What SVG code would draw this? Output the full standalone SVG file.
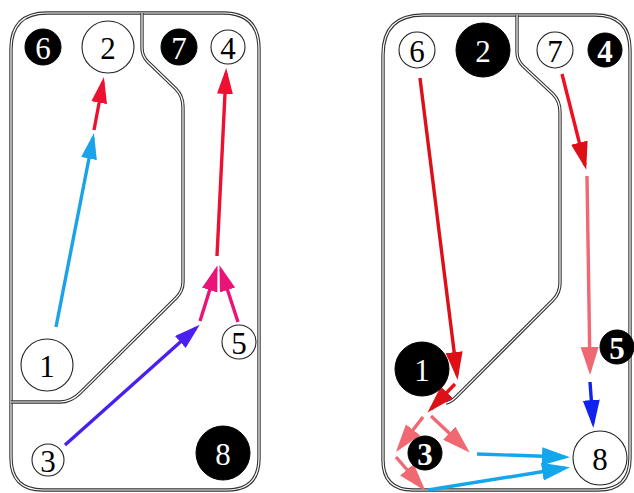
<svg xmlns="http://www.w3.org/2000/svg" width="634" height="493" viewBox="0 0 634 493">
<style>
.wo{fill:none;stroke:#333;stroke-width:3.4;stroke-linejoin:round}
.wi{fill:none;stroke:#fff;stroke-width:1.2;stroke-linejoin:round}
.nw circle{fill:#fff;stroke:#222;stroke-width:1.1}
.nb circle{fill:#000;stroke:#000}
text{font-family:"Liberation Serif","Times New Roman",serif;font-size:31px;text-anchor:middle;dominant-baseline:central}
.nw text{fill:#000}
.nb text{fill:#fff}
.c line{stroke-width:3.4;fill:none}
</style>
<defs>
<marker id="hBlue" markerUnits="userSpaceOnUse" markerWidth="30" markerHeight="18" refX="21" refY="8" orient="auto"><path d="M0,0 L26,8 L0,16 z" fill="#1aa3ea"/></marker>
<marker id="hRed" markerUnits="userSpaceOnUse" markerWidth="30" markerHeight="18" refX="21" refY="8" orient="auto"><path d="M0,0 L26,8 L0,16 z" fill="#ee1030"/></marker>
<marker id="hRed2" markerUnits="userSpaceOnUse" markerWidth="32" markerHeight="18" refX="23" refY="8.5" orient="auto"><path d="M0,0 L28,8.5 L0,17 z" fill="#dd1018"/></marker>
<marker id="hMag" markerUnits="userSpaceOnUse" markerWidth="30" markerHeight="18" refX="21" refY="8" orient="auto"><path d="M0,0 L26,8 L0,16 z" fill="#ea1478"/></marker>
<marker id="hVio" markerUnits="userSpaceOnUse" markerWidth="30" markerHeight="18" refX="21" refY="8" orient="auto"><path d="M0,0 L26,8 L0,16 z" fill="#4a20f0"/></marker>
<marker id="hSal" markerUnits="userSpaceOnUse" markerWidth="32" markerHeight="20" refX="23" refY="9" orient="auto"><path d="M0,0 L28,9 L0,18 z" fill="#f06872"/></marker>
<marker id="hDB" markerUnits="userSpaceOnUse" markerWidth="32" markerHeight="18" refX="23" refY="8.5" orient="auto"><path d="M0,0 L28,8.5 L0,17 z" fill="#1222ee"/></marker>
<marker id="hLB" markerUnits="userSpaceOnUse" markerWidth="32" markerHeight="20" refX="23" refY="9" orient="auto"><path d="M0,0 L28,9 L0,18 z" fill="#14a6ec"/></marker>
</defs>
<rect width="634" height="493" fill="#fff"/>
<g id="frames">
<path class="wo" d="M11,49 Q11,13 47,13 H223 Q259,13 259,49 V458 Q259,490 227,490 H43 Q11,490 11,458 Z"/>
<path class="wi" d="M11,49 Q11,13 47,13 H223 Q259,13 259,49 V458 Q259,490 227,490 H43 Q11,490 11,458 Z"/>
<path class="wo" d="M142,13 V48 Q142,56 148,62 L176,89 Q183,96 183,107 V282 Q183,291 176,298 L80,393 Q71,402 60,402 H11"/>
<path class="wi" d="M142,13 V48 Q142,56 148,62 L176,89 Q183,96 183,107 V282 Q183,291 176,298 L80,393 Q71,402 60,402 H11"/>
<path class="wo" d="M383,55 Q383,15 423,15 H595 Q630,15 630,50 V458 Q630,490 598,490 H413 Q383,490 383,460 Z"/>
<path class="wi" d="M383,55 Q383,15 423,15 H595 Q630,15 630,50 V458 Q630,490 598,490 H413 Q383,490 383,460 Z"/>
<path class="wo" d="M517,15 V52 Q517,60 523,66 L553,94 Q560,101 560,112 V283 Q560,293 553,300 L456,397 Q451,402 446,403"/>
<path class="wi" d="M517,15 V52 Q517,60 523,66 L553,94 Q560,101 560,112 V283 Q560,293 553,300 L456,397 Q451,402 446,403"/>
</g>
<g id="connectors" class="c">
<line x1="56" y1="327" x2="93" y2="138" stroke="#1aa3ea" marker-end="url(#hBlue)"/>
<line x1="94" y1="130" x2="103" y2="82" stroke="#ee1030" marker-end="url(#hRed)"/>
<line x1="217" y1="256" x2="226" y2="73" stroke="#ee1030" marker-end="url(#hRed)"/>
<line x1="200" y1="321" x2="216" y2="270" stroke="#ea1478" marker-end="url(#hMag)"/>
<line x1="238" y1="322" x2="221" y2="270" stroke="#ea1478" marker-end="url(#hMag)"/>
<line x1="65" y1="445" x2="196" y2="328" stroke="#4a20f0" marker-end="url(#hVio)"/>
<line x1="420" y1="78" x2="457" y2="375" stroke="#dd1018" marker-end="url(#hRed2)"/>
<line x1="562" y1="74" x2="585" y2="165" stroke="#ee1022" marker-end="url(#hRed2)"/>
<line x1="587" y1="176" x2="590" y2="370" stroke="#f06872" marker-end="url(#hSal)"/>
<line x1="590" y1="382" x2="593" y2="423" stroke="#1222ee" marker-end="url(#hDB)"/>
<line x1="455" y1="384" x2="431" y2="409" stroke="#ee1010" marker-end="url(#hRed2)"/>
<line x1="423" y1="417" x2="399" y2="448" stroke="#f06872" marker-end="url(#hSal)"/>
<line x1="431" y1="416" x2="466" y2="449" stroke="#f06872" marker-end="url(#hSal)"/>
<line x1="396" y1="457" x2="422" y2="487" stroke="#f06872" marker-end="url(#hSal)"/>
<line x1="477" y1="454" x2="565" y2="457" stroke="#14a6ec" marker-end="url(#hLB)"/>
<line x1="428" y1="490" x2="565" y2="468" stroke="#14a6ec" marker-end="url(#hLB)"/>
</g>
<g id="L6" class="nb"><circle cx="43" cy="47" r="18"/><text x="43" y="48">6</text></g>
<g id="L2" class="nw"><circle cx="108" cy="47" r="26"/><text x="108" y="48">2</text></g>
<g id="L7" class="nb"><circle cx="179" cy="47" r="18"/><text x="179" y="48">7</text></g>
<g id="L4" class="nw"><circle cx="228" cy="47" r="17"/><text x="228" y="48">4</text></g>
<g id="L1" class="nw"><circle cx="47" cy="365" r="26"/><text x="47" y="366">1</text></g>
<g id="L5" class="nw"><circle cx="239" cy="342" r="17"/><text x="239" y="343">5</text></g>
<g id="L3" class="nw"><circle cx="48" cy="460" r="16"/><text x="48" y="461">3</text></g>
<g id="L8" class="nb"><circle cx="223" cy="453" r="27"/><text x="223" y="454">8</text></g>
<g id="R6" class="nw"><circle cx="417" cy="50" r="18"/><text x="417" y="51">6</text></g>
<g id="R2" class="nb"><circle cx="483" cy="50" r="27"/><text x="483" y="51">2</text></g>
<g id="R7" class="nw"><circle cx="555" cy="50" r="18"/><text x="555" y="51">7</text></g>
<g id="R4" class="nb"><circle cx="605" cy="50" r="17"/><text x="605" y="51" font-weight="bold">4</text></g>
<g id="R1" class="nb"><circle cx="422" cy="369" r="27"/><text x="422" y="370">1</text></g>
<g id="R5" class="nb"><circle cx="617" cy="347" r="17"/><text x="617" y="348" font-weight="bold">5</text></g>
<g id="R3" class="nb"><circle cx="425" cy="453" r="17"/><text x="425" y="454" font-weight="bold">3</text></g>
<g id="R8" class="nw"><circle cx="600" cy="458" r="27"/><text x="600" y="459">8</text></g>
</svg>
